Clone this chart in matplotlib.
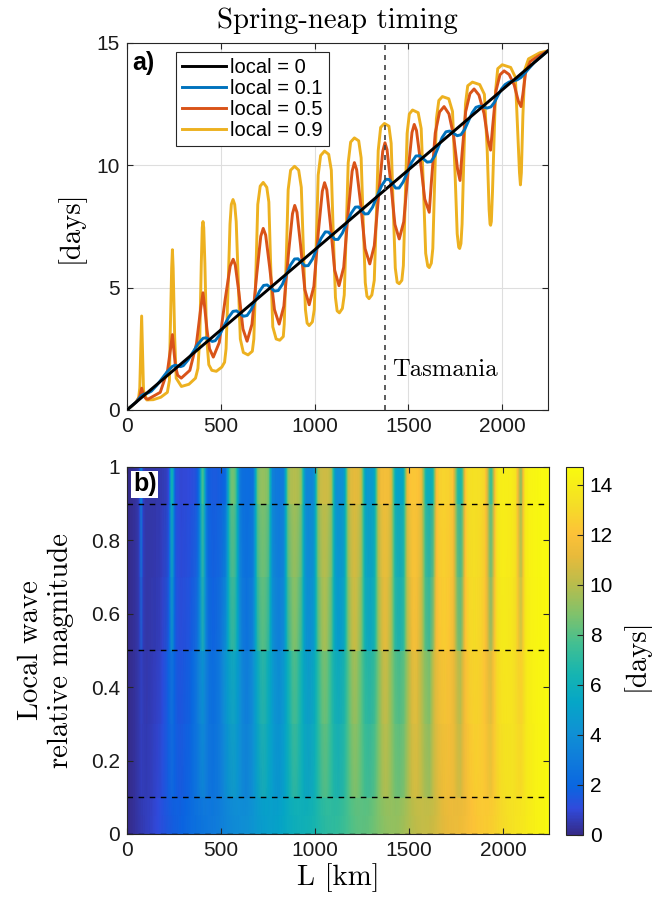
import numpy as np
import matplotlib
matplotlib.use("Agg")
import matplotlib.pyplot as plt
from matplotlib.colors import LinearSegmentedColormap

# ---- values ----
L_max = 2244        # km, right edge of both panels
L_tasmania = 1377   # km, dashed marker
t_max = 14.72       # days, top of the colour scale

local_levels = [0, 0.1, 0.5, 0.9]
legend_labels = ["local = 0", "local = 0.1", "local = 0.5", "local = 0.9"]

L_0 = [0, 2244]
T_0 = [0, 14.68]

L_01 = [0, 50, 76, 89, 103, 116, 130, 158, 186, 214, 242, 256, 271, 285, 300, 326, 352, 379,
        405, 421, 437, 454, 470, 494, 517, 541, 565, 584, 602, 621, 640, 662, 684, 706, 728,
        747, 767, 786, 806, 828, 849, 871, 893, 911, 929, 948, 966, 989, 1011, 1034, 1057, 1074,
        1091, 1108, 1125, 1148, 1171, 1194, 1217, 1234, 1251, 1268, 1285, 1309, 1332, 1356,
        1380, 1397, 1415, 1432, 1450, 1472, 1495, 1517, 1540, 1560, 1580, 1600, 1620, 1640,
        1660, 1680, 1700, 1720, 1740, 1760, 1780, 1800, 1820, 1840, 1860, 1880, 1900, 1920,
        1940, 1959, 1977, 1996, 2015, 2036, 2057, 2079, 2100, 2170, 2244]
T_01 = [0, 0.33, 0.58, 0.64, 0.67, 0.71, 0.77, 1.00, 1.28, 1.56, 1.78, 1.83, 1.80, 1.77, 1.81,
        2.05, 2.37, 2.70, 2.93, 2.95, 2.88, 2.80, 2.83, 3.07, 3.43, 3.78, 4.03, 4.05, 3.94, 3.83,
        3.86, 4.10, 4.48, 4.85, 5.09, 5.11, 4.99, 4.86, 4.88, 5.13, 5.53, 5.92, 6.17, 6.18, 6.04,
        5.89, 5.90, 6.17, 6.59, 7.01, 7.28, 7.27, 7.12, 6.97, 6.97, 7.23, 7.63, 8.03, 8.29, 8.30,
        8.15, 8.01, 8.02, 8.29, 8.72, 9.15, 9.43, 9.42, 9.25, 9.07, 9.07, 9.32, 9.72, 10.12,
        10.38, 10.39, 10.26, 10.13, 10.15, 10.38, 10.76, 11.14, 11.37, 11.40, 11.31, 11.21,
        11.25, 11.47, 11.81, 12.15, 12.37, 12.42, 12.38, 12.34, 12.39, 12.58, 12.85, 13.12,
        13.30, 13.40, 13.45, 13.49, 13.59, 14.20, 14.68]

L_05 = [0, 50, 68, 78, 88, 100, 112, 177, 216, 232, 242, 249, 258, 270, 289, 335, 370, 392, 405,
        414, 426, 440, 460, 492, 524, 550, 566, 577, 596, 618, 640, 666, 692, 713, 726, 739, 760,
        786, 811, 836, 861, 882, 894, 906, 925, 948, 971, 996, 1020, 1041, 1053, 1065, 1084,
        1107, 1130, 1155, 1179, 1200, 1212, 1224, 1245, 1269, 1294, 1318, 1343, 1363, 1375,
        1386, 1405, 1428, 1451, 1475, 1499, 1519, 1531, 1543, 1563, 1587, 1611, 1623, 1643,
        1666, 1690, 1716, 1741, 1762, 1775, 1786, 1805, 1828, 1850, 1876, 1903, 1925, 1938,
        1949, 1967, 1988, 2010, 2037, 2064, 2086, 2100, 2110, 2125, 2150, 2200, 2244]
T_05 = [0, 0.33, 0.55, 0.89, 0.60, 0.47, 0.44, 0.72, 1.60, 2.50, 3.08, 2.50, 1.80, 1.42, 1.30,
        1.62, 2.70, 4.10, 4.79, 4.20, 3.30, 2.50, 2.16, 2.76, 4.56, 5.88, 6.16, 5.93, 4.82, 3.31,
        2.81, 3.50, 5.58, 7.10, 7.42, 7.15, 5.86, 4.10, 3.51, 4.24, 6.42, 8.02, 8.36, 8.08, 6.74,
        4.91, 4.30, 5.05, 7.29, 8.94, 9.29, 9.00, 7.61, 5.71, 5.08, 5.83, 8.10, 9.76, 10.11, 9.82,
        8.45, 6.59, 5.97, 6.71, 8.94, 10.57, 10.92, 10.64, 9.35, 7.58, 6.99, 7.69, 9.80, 11.34,
        11.67, 11.42, 10.23, 8.62, 8.08, 9.38, 11.32, 12.18, 12.40, 12.10, 11.19, 9.83, 9.38,
        10.50, 12.19, 12.93, 13.12, 12.87, 12.12, 11.00, 10.62, 11.59, 13.05, 13.70, 13.86,
        13.71, 13.28, 12.62, 12.40, 12.90, 13.80, 14.25, 14.50, 14.68]

L_09 = [0, 45, 62, 68, 73, 78, 83, 88, 105, 140, 180, 215, 226, 230, 238, 242, 246, 254, 262,
        290, 330, 365, 378, 388, 396, 401, 405, 409, 415, 424, 436, 452, 476, 505, 520,
        528, 540, 549, 556, 565, 574, 582, 592, 604, 620, 645, 668,
        676, 688, 697, 710, 726, 745, 756, 765, 777, 795, 814, 833,
        838, 850, 859, 872, 893, 915, 929, 939, 951, 960, 971, 988,
        998, 1010, 1019, 1032, 1053, 1075, 1089, 1099, 1111, 1120, 1132, 1148,
        1158, 1170, 1179, 1192, 1212, 1235, 1248, 1258, 1270, 1279, 1290, 1305,
        1318, 1330, 1339, 1352, 1372, 1396, 1408, 1418, 1430, 1440, 1451, 1465,
        1473, 1484, 1493, 1505, 1522, 1552, 1568, 1580, 1592, 1603, 1611, 1622,
        1630, 1640, 1649, 1662, 1681, 1715, 1735, 1748, 1760, 1768, 1773, 1780,
        1786, 1795, 1804, 1816, 1841, 1880, 1905, 1920, 1930, 1935, 1938, 1942,
        1948, 1956, 1964, 1976, 2000, 2045, 2070, 2082, 2092, 2097, 2102,
        2110, 2120, 2140, 2200, 2244]
T_09 = [0, 0.29, 0.50, 0.90, 2.40, 3.84, 2.40, 0.80, 0.41, 0.42, 0.52, 0.72, 1.20, 3.00, 5.80,
        6.55, 5.80, 3.00, 1.30, 0.96, 1.05, 1.30, 1.70, 3.00, 6.00, 7.45, 7.70, 7.45, 6.00, 3.00,
        1.85, 1.62, 1.58, 1.75, 1.95,
        2.50, 5.30, 7.60, 8.40, 8.60, 8.40, 7.70, 5.50, 2.90, 2.35, 2.25, 2.40,
        2.90, 5.90, 8.40, 9.15, 9.30, 9.10, 8.50, 6.10, 3.40, 2.90, 2.85, 3.00,
        3.50, 6.50, 9.00, 9.80, 9.96, 9.80, 9.10, 6.80, 4.10, 3.55, 3.45, 3.60,
        4.10, 7.10, 9.60, 10.40, 10.58, 10.45, 9.80, 7.30, 4.60, 4.05, 3.97, 4.15,
        4.70, 7.70, 10.10, 10.95, 11.12, 11.00, 10.30, 7.90, 5.20, 4.65, 4.55, 4.70,
        5.30, 8.20, 10.60, 11.55, 11.71, 11.60, 10.90, 8.50, 5.80, 5.22, 5.16, 5.30,
        5.90, 8.80, 11.30, 12.10, 12.26, 12.15, 11.50, 9.10, 6.40, 5.88, 5.82, 6.00,
        6.60, 9.40, 11.90, 12.65, 12.81, 12.72, 12.20, 9.80, 7.20, 6.65, 6.60, 6.80,
        7.60, 10.20, 12.50, 13.25, 13.40, 13.30, 12.90, 10.60, 8.20, 7.60, 7.55, 7.70,
        8.90, 11.00, 13.00, 13.95, 14.11, 14.00, 13.60, 11.50, 9.70, 9.20, 9.70,
        12.00, 13.90, 14.35, 14.60, 14.68]

x_ticks = [0, 500, 1000, 1500, 2000]
y_ticks_a = [0, 5, 10, 15]
y_ticks_b = [0, 0.2, 0.4, 0.6, 0.8, 1]
y_ticklabels_b = ["0", "0.2", "0.4", "0.6", "0.8", "1"]
cbar_ticks = [0, 2, 4, 6, 8, 10, 12, 14]

line_colors = ["black", (0, 0.447, 0.741), (0.85, 0.325, 0.098), (0.929, 0.694, 0.125)]

# approximation of MATLAB's parula
parula = LinearSegmentedColormap.from_list("parula", [
    (0.00, (0.208, 0.166, 0.529)),
    (0.07, (0.190, 0.290, 0.860)),
    (0.13, (0.040, 0.400, 0.880)),
    (0.20, (0.060, 0.480, 0.860)),
    (0.28, (0.060, 0.570, 0.830)),
    (0.36, (0.020, 0.650, 0.780)),
    (0.44, (0.090, 0.710, 0.690)),
    (0.52, (0.260, 0.750, 0.570)),
    (0.60, (0.500, 0.760, 0.420)),
    (0.68, (0.720, 0.740, 0.300)),
    (0.76, (0.910, 0.730, 0.230)),
    (0.82, (0.990, 0.760, 0.220)),
    (0.90, (0.960, 0.870, 0.150)),
    (1.00, (0.976, 0.983, 0.054)),
])

plt.rcParams["font.family"] = ["Liberation Sans", "DejaVu Sans"]
serif = "cmr10"
axc = (0.15, 0.15, 0.15)

fig = plt.figure(figsize=(6.52, 9.01), dpi=100)
ax1 = fig.add_axes([0.1948, 0.545, 0.6457, 0.4073])
ax2 = fig.add_axes([0.1948, 0.0744, 0.6472, 0.4073])
cax = fig.add_axes([0.868, 0.0733, 0.026, 0.4084])

# ---- panel a ----
curves = [(L_0, T_0), (L_01, T_01), (L_05, T_05), (L_09, T_09)]
zorders = [5, 4, 3, 2]
for (L, T), c, lab, z in zip(curves, line_colors, legend_labels, zorders):
    ax1.plot(L, T, color=c, lw=2.1, label=lab, zorder=z, solid_joinstyle="round")

ax1.axvline(L_tasmania, color=(0.25, 0.25, 0.25), ls=(0, (3, 3)), lw=1.2, zorder=6)
ax1.text(1411, 1.4, "Tasmania", fontfamily=serif, fontsize=17.8, va="baseline", zorder=7)

ax1.set_xlim(0, L_max)
ax1.set_ylim(0, 15)
ax1.set_xticks(x_ticks)
ax1.set_yticks(y_ticks_a)
ax1.grid(True, color=(0.87, 0.87, 0.87), lw=0.8)
ax1.set_axisbelow(True)
ax1.set_title("Spring-neap timing", fontfamily=serif, fontsize=20.7, pad=10.5)

leg = ax1.legend(loc="upper left", bbox_to_anchor=(0.116, 0.976), borderaxespad=0,
                 fontsize=14.5, handlelength=2.2, handletextpad=0.2, labelspacing=0.1,
                 borderpad=0.3, fancybox=False, framealpha=1, edgecolor=axc)
leg.get_frame().set_linewidth(0.8)
leg.set_zorder(10)
ax1.text(0.012, 0.978, "a)", transform=ax1.transAxes, fontsize=18, fontweight="bold",
         va="top", ha="left", zorder=11)

# ---- panel b ----
L_grid = np.linspace(0, L_max, 1500)
rows_local = local_levels + [1.0]
rows = [np.interp(L_grid, L, T) for L, T in curves]
rows.append(rows[-1])
mesh = ax2.pcolormesh(L_grid, rows_local, np.array(rows), shading="gouraud", cmap=parula,
                      vmin=0, vmax=t_max, rasterized=True)
for lv in local_levels:
    ax2.axhline(lv, color="black", ls=(0, (4, 4)), lw=1.0)

ax2.set_xlim(0, L_max)
ax2.set_ylim(0, 1)
ax2.set_xticks(x_ticks)
ax2.set_yticks(y_ticks_b)
ax2.set_yticklabels(y_ticklabels_b)
ax2.text(0.014, 0.985, "b)", transform=ax2.transAxes, fontsize=18, fontweight="bold",
         va="top", ha="left", bbox=dict(facecolor="white", edgecolor="none", pad=1.0))

cb = fig.colorbar(mesh, cax=cax, ticks=cbar_ticks)
cb.outline.set_edgecolor(axc)
cb.outline.set_linewidth(0.8)
cax.tick_params(direction="in", length=4, labelsize=15, color=axc, pad=5)

for ax in (ax1, ax2):
    ax.tick_params(direction="in", length=4, labelsize=15, top=True, right=True,
                   color=axc, labelcolor=(0.1, 0.1, 0.1), pad=5)
    for s in ax.spines.values():
        s.set_edgecolor(axc)
        s.set_linewidth(0.8)

# axis labels
fig.text(70 / 652, 0.7486, "[days]", rotation=90, ha="center", va="center",
         fontfamily=serif, fontsize=20.7)
fig.text(31 / 652, 1 - 650 / 901, "Local wave", rotation=90, ha="center", va="center",
         fontfamily=serif, fontsize=20.7)
fig.text(61 / 652, 1 - 650 / 901, "relative magnitude", rotation=90, ha="center", va="center",
         fontfamily=serif, fontsize=20.7)
fig.text(338 / 652, 1 - 878 / 901, "L [km]", ha="center", va="center",
         fontfamily=serif, fontsize=20.7)
fig.text(636 / 652, 1 - 655 / 901, "[days]", rotation=90, ha="center", va="center",
         fontfamily=serif, fontsize=20.7)

fig.savefig("out.png", dpi=100)
